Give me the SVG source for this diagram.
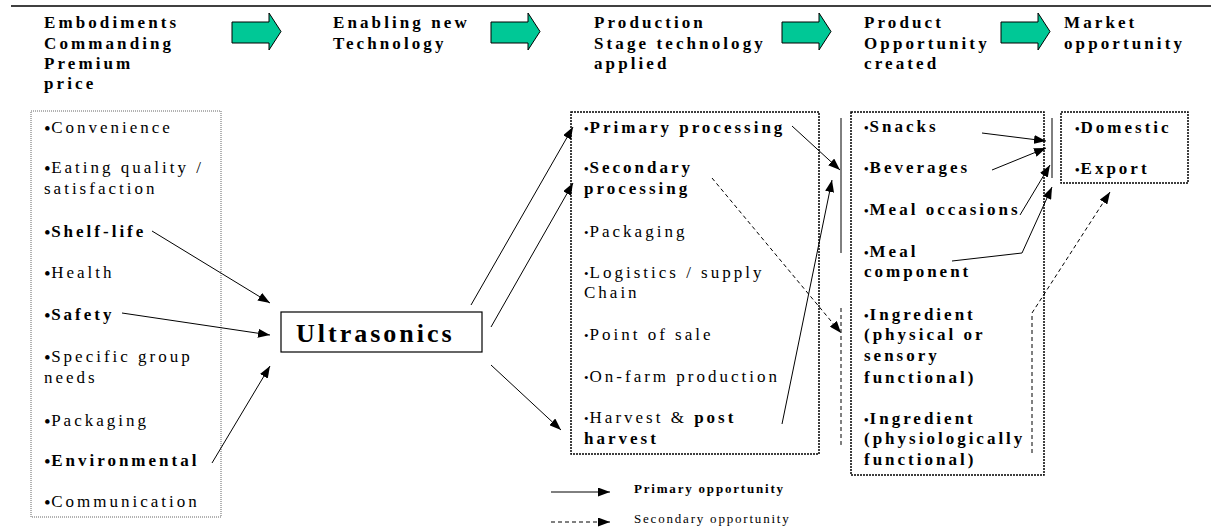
<svg xmlns="http://www.w3.org/2000/svg" width="1211" height="532" viewBox="0 0 1211 532">
  <style>
    text { font-family: "Liberation Serif", "Times New Roman", serif; fill: #000; }
    .h { font-size: 17px; font-weight: bold; letter-spacing: 3.1px; }
    .t { font-size: 17px; letter-spacing: 3px; }
    .tb { font-size: 17px; font-weight: bold; letter-spacing: 3px; }
    .b { font-weight: bold; }
    .bu { font-size: 19px; font-weight: normal; letter-spacing: 0.5px; baseline-shift: -1.5px; }
    .sb { font-size: 13px; letter-spacing: 1px; }
    .big { font-size: 26px; font-weight: bold; letter-spacing: 3px; }
    .lg { font-size: 13px; letter-spacing: 1.8px; }
    .stage { fill: #00c896; stroke: #000; stroke-width: 1; }
    .boxl { fill: none; stroke: #666; stroke-width: 1; stroke-dasharray: 1 1; }
    .boxd { fill: none; stroke: #000; stroke-width: 1.5; stroke-dasharray: 2 1; }
    .ln { fill: none; stroke: #000; stroke-width: 1; }
    .dash { fill: none; stroke: #000; stroke-width: 1; stroke-dasharray: 4 3; }
  </style>
  <defs>
    <marker id="ah" markerWidth="12" markerHeight="9" refX="12" refY="4.5" orient="auto" markerUnits="userSpaceOnUse">
      <path d="M0,0 L12,4.5 L0,9 Z" fill="#000"/>
    </marker>
    <path id="stageArrow" d="M0,22 H37 V13 L49,31.5 L37,50 V43 H0 Z"/>
  </defs>

  <!-- top rule -->
  <line x1="11" y1="6" x2="1211" y2="6" stroke="#000" stroke-width="1.5"/>

  <!-- stage headings -->
  <g id="headings">
    <text class="h" x="44" y="28">Embodiments</text>
    <text class="h" x="44" y="49">Commanding</text>
    <text class="h" x="44" y="69">Premium</text>
    <text class="h" x="44" y="89">price</text>
    <text class="h" x="333" y="28">Enabling new</text>
    <text class="h" x="333" y="49">Technology</text>
    <text class="h" x="594" y="28">Production</text>
    <text class="h" x="594" y="49">Stage technology</text>
    <text class="h" x="594" y="69">applied</text>
    <text class="h" x="864" y="28">Product</text>
    <text class="h" x="864" y="49">Opportunity</text>
    <text class="h" x="864" y="69">created</text>
    <text class="h" x="1064" y="28">Market</text>
    <text class="h" x="1064" y="49">opportunity</text>
  </g>

  <!-- block arrows between stages -->
  <g id="stage-arrows">
    <use href="#stageArrow" class="stage" x="232"/>
    <use href="#stageArrow" class="stage" x="491"/>
    <use href="#stageArrow" class="stage" x="782"/>
    <use href="#stageArrow" class="stage" x="1001"/>
  </g>

  <!-- premium attributes -->
  <g id="attributes">
    <rect class="boxl" x="31" y="111" width="190" height="406"/>
    <text class="t" x="44" y="133"><tspan class="bu">•</tspan><tspan>Convenience</tspan></text>
    <text class="t" x="44" y="173"><tspan class="bu">•</tspan><tspan>Eating quality /</tspan></text>
    <text class="t" x="44" y="194">satisfaction</text>
    <text class="tb" x="44" y="237"><tspan class="bu">•</tspan><tspan>Shelf-life</tspan></text>
    <text class="t" x="44" y="278"><tspan class="bu">•</tspan><tspan>Health</tspan></text>
    <text class="tb" x="44" y="320"><tspan class="bu">•</tspan><tspan>Safety</tspan></text>
    <text class="t" x="44" y="362"><tspan class="bu">•</tspan><tspan>Specific group</tspan></text>
    <text class="t" x="44" y="383">needs</text>
    <text class="t" x="44" y="426"><tspan class="bu">•</tspan><tspan>Packaging</tspan></text>
    <text class="tb" x="44" y="466"><tspan class="bu">•</tspan><tspan>Environmental</tspan></text>
    <text class="t" x="44" y="507"><tspan class="bu">•</tspan><tspan>Communication</tspan></text>
  </g>

  <!-- enabling technology -->
  <g id="ultrasonics">
    <rect x="281" y="312" width="201" height="40" fill="#fff" stroke="#000" stroke-width="1.2"/>
    <text class="big" x="296" y="342">Ultrasonics</text>
  </g>

  <!-- production stages -->
  <g id="production">
    <rect class="boxd" x="571" y="112" width="248" height="342"/>
    <text class="tb" x="584" y="133"><tspan class="sb">•</tspan>Primary processing</text>
    <text class="tb" x="584" y="173"><tspan class="sb">•</tspan>Secondary</text>
    <text class="tb" x="584" y="194">processing</text>
    <text class="t" x="584" y="237"><tspan class="sb">•</tspan>Packaging</text>
    <text class="t" x="584" y="278"><tspan class="sb">•</tspan>Logistics / supply</text>
    <text class="t" x="584" y="298">Chain</text>
    <text class="t" x="584" y="340"><tspan class="sb">•</tspan>Point of sale</text>
    <text class="t" x="584" y="382"><tspan class="sb">•</tspan>On-farm production</text>
    <text class="t" x="584" y="423"><tspan class="sb">•</tspan>Harvest &amp; <tspan class="b">post</tspan></text>
    <text class="tb" x="584" y="444">harvest</text>
  </g>

  <!-- product opportunities -->
  <g id="products">
    <rect class="boxd" x="851" y="112" width="193" height="363"/>
    <text class="tb" x="864" y="132"><tspan class="sb">•</tspan>Snacks</text>
    <text class="tb" x="864" y="173"><tspan class="sb">•</tspan>Beverages</text>
    <text class="tb" x="864" y="215"><tspan class="sb">•</tspan>Meal occasions</text>
    <text class="tb" x="864" y="257"><tspan class="sb">•</tspan>Meal</text>
    <text class="tb" x="864" y="277">component</text>
    <text class="tb" x="864" y="320"><tspan class="sb">•</tspan>Ingredient</text>
    <text class="tb" x="864" y="340">(physical or</text>
    <text class="tb" x="864" y="361">sensory</text>
    <text class="tb" x="864" y="383">functional)</text>
    <text class="tb" x="864" y="424"><tspan class="sb">•</tspan>Ingredient</text>
    <text class="tb" x="864" y="444">(physiologically</text>
    <text class="tb" x="864" y="465">functional)</text>
  </g>

  <!-- markets -->
  <g id="markets">
    <rect class="boxd" x="1061" y="112" width="127" height="71"/>
    <text class="tb" x="1075" y="133"><tspan class="sb">•</tspan>Domestic</text>
    <text class="tb" x="1075" y="174"><tspan class="sb">•</tspan>Export</text>
  </g>

  <!-- connectors -->
  <g id="connectors">
    <!-- collector bars -->
    <line class="ln" x1="841" y1="118" x2="841" y2="253"/>
    <line class="dash" x1="841" y1="308" x2="841" y2="446"/>
    <line class="ln" x1="1052" y1="118" x2="1052" y2="178"/>

    <!-- attributes to ultrasonics -->
    <line class="ln" x1="152" y1="231" x2="270" y2="303" marker-end="url(#ah)"/>
    <line class="ln" x1="122" y1="313" x2="270" y2="335" marker-end="url(#ah)"/>
    <line class="ln" x1="212" y1="463" x2="270" y2="366" marker-end="url(#ah)"/>

    <!-- ultrasonics to production stages -->
    <line class="ln" x1="471" y1="305" x2="573" y2="127" marker-end="url(#ah)"/>
    <line class="ln" x1="491" y1="327" x2="573" y2="183" marker-end="url(#ah)"/>
    <line class="ln" x1="491" y1="365" x2="561" y2="430" marker-end="url(#ah)"/>

    <!-- production stages to products -->
    <line class="ln" x1="792" y1="126" x2="840" y2="170" marker-end="url(#ah)"/>
    <line class="ln" x1="782" y1="424" x2="832" y2="180" marker-end="url(#ah)"/>
    <line class="dash" x1="712" y1="178" x2="841" y2="333" marker-end="url(#ah)"/>

    <!-- products to markets -->
    <line class="ln" x1="982" y1="133" x2="1046" y2="141" marker-end="url(#ah)"/>
    <line class="ln" x1="992" y1="170" x2="1046" y2="148" marker-end="url(#ah)"/>
    <line class="ln" x1="1020" y1="215" x2="1050" y2="165" marker-end="url(#ah)"/>
    <polyline class="ln" points="952,261 1022,253 1052,187" marker-end="url(#ah)"/>
    <polyline class="dash" points="1032,453 1032,313 1110,192" marker-end="url(#ah)"/>
  </g>

  <!-- legend -->
  <g id="legend">
    <line class="ln" x1="551" y1="492" x2="610" y2="492" marker-end="url(#ah)"/>
    <text class="lg b" x="634" y="493">Primary opportunity</text>
    <line class="dash" x1="551" y1="522" x2="610" y2="522" marker-end="url(#ah)"/>
    <text class="lg" x="634" y="523">Secondary opportunity</text>
  </g>
</svg>
